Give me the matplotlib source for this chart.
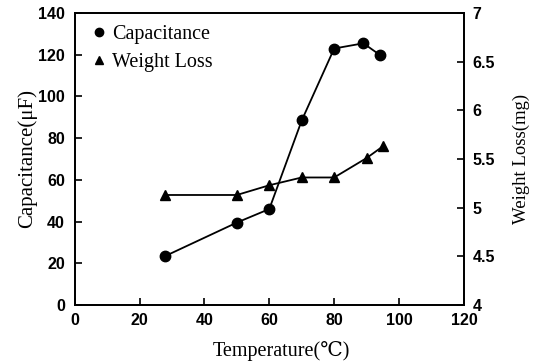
import matplotlib
matplotlib.use("Agg")
import matplotlib.pyplot as plt
from matplotlib.lines import Line2D
from matplotlib.ticker import FuncFormatter

# Data
cap_temp = [28, 50, 60, 70, 80, 89, 94]
capacitance = [23.5, 39.5, 46, 88.5, 123, 125.5, 120]
wl_temp = [28, 50, 60, 70, 80, 90, 95]
weight_loss = [5.13, 5.13, 5.23, 5.31, 5.31, 5.51, 5.63]

x_ticks = [0, 20, 40, 60, 80, 100, 120]
y1_ticks = [0, 20, 40, 60, 80, 100, 120, 140]
y2_ticks = [4, 4.5, 5, 5.5, 6, 6.5, 7]

serif = ['Liberation Serif', 'DejaVu Serif', 'Noto Sans CJK SC']

fig = plt.figure(figsize=(5.33, 3.63), dpi=100)
ax = fig.add_axes([0.14, 0.16, 0.7305, 0.804])
ax2 = ax.twinx()

ax.plot(cap_temp, capacitance, color='black', lw=1.3, marker='o', ms=7.5,
        mfc='black', mec='black', zorder=3)
ax2.plot(wl_temp, weight_loss, color='black', lw=1.3, marker='^', ms=7,
         mfc='black', mec='black', zorder=3)

ax.set_xlim(0, 120)
ax.set_ylim(0, 140)
ax2.set_ylim(4, 7)
ax.set_xticks(x_ticks)
ax.set_yticks(y1_ticks)
ax2.set_yticks(y2_ticks)
ax2.yaxis.set_major_formatter(FuncFormatter(lambda v, p: ('%g' % v)))

for a in (ax, ax2):
    a.tick_params(direction='in', length=5, width=1.2, labelsize=11.5)
    for lab in a.get_xticklabels() + a.get_yticklabels():
        lab.set_fontfamily('Liberation Sans')
        lab.set_fontweight('bold')
    for s in a.spines.values():
        s.set_linewidth(1.3)
ax.tick_params(axis='x', pad=6)
ax.tick_params(axis='y', pad=7)
ax2.tick_params(right=True, left=False, pad=6)

ax.set_xlabel('Temperature(℃)', family=serif, fontsize=14.5)
ax.xaxis.set_label_coords(0.53, -0.125)
ax.set_ylabel('Capacitance(μF)', family=serif, fontsize=15, labelpad=1)
ax2.set_ylabel('Weight Loss(mg)', family=serif, fontsize=13.5, labelpad=13,
               rotation=90)

handles = [Line2D([], [], color='black', marker='o', ls='none', ms=6),
           Line2D([], [], color='black', marker='^', ls='none', ms=6)]
leg = ax.legend(handles, ['Capacitance', 'Weight Loss'], loc='upper left',
                bbox_to_anchor=(0.0, 1.02), frameon=False, handlelength=0.6,
                handletextpad=0.35, labelspacing=0.42,
                prop={'family': serif, 'size': 14.5})

fig.savefig('out.png', dpi=100)
